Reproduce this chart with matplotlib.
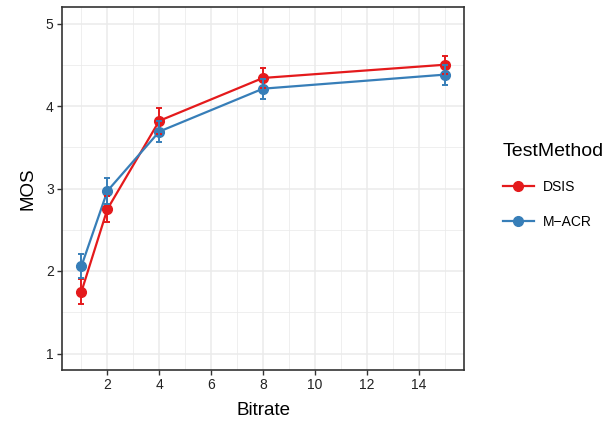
import matplotlib
matplotlib.use("Agg")
import matplotlib.pyplot as plt
from matplotlib.lines import Line2D

plt.rcParams['font.family'] = ['Liberation Sans', 'DejaVu Sans']

bitrate = [1, 2, 4, 8, 15]
dsis_mos = [1.75, 2.75, 3.82, 4.34, 4.50]
dsis_err = [0.15, 0.16, 0.16, 0.12, 0.11]
macr_mos = [2.06, 2.97, 3.69, 4.21, 4.38]
macr_err = [0.15, 0.16, 0.13, 0.12, 0.12]

red = '#E41A1C'
blue = '#377EB8'
dark = '#333333'

fig = plt.figure(figsize=(6.11, 4.25), dpi=100)
ax = fig.add_axes([62 / 611, 1 - 370 / 425, (464 - 62) / 611, (370 - 7) / 425])

series = [(dsis_mos, dsis_err, red), (macr_mos, macr_err, blue)]
# ggplot-like layering: lines, then points, then error bars
for y, e, c in series:
    ax.plot(bitrate, y, color=c, lw=1.6, zorder=2)
for y, e, c in series:
    ax.plot(bitrate, y, 'o', color=c, ms=7, zorder=3)
for y, e, c in series:
    ax.errorbar(bitrate, y, yerr=e, fmt='none', ecolor=c, elinewidth=1.4,
                capsize=2.2, capthick=1.4, zorder=4)

ax.set_xlim(0.25, 15.75)
ax.set_ylim(0.8, 5.2)
ax.set_xticks([2, 4, 6, 8, 10, 12, 14])
ax.set_xticks([1, 3, 5, 7, 9, 11, 13, 15], minor=True)
ax.set_yticks([1, 2, 3, 4, 5])
ax.set_yticks([1.5, 2.5, 3.5, 4.5], minor=True)
ax.grid(True, which='major', color='#EBEBEB', lw=1.1, zorder=0)
ax.grid(True, which='minor', color='#EBEBEB', lw=0.55, zorder=0)
ax.set_axisbelow(True)
ax.tick_params(which='major', length=3.5, width=1, color=dark, labelsize=10,
               labelcolor='#222222', pad=2.5)
ax.tick_params(which='minor', length=0)
for s in ax.spines.values():
    s.set_color(dark)
    s.set_linewidth(1.2)

ax.set_xlabel('Bitrate', fontsize=13.5, labelpad=7)
ax.set_ylabel('MOS', fontsize=13.5, labelpad=7)

handles = [Line2D([], [], color=red, lw=1.6, marker='o', ms=7),
           Line2D([], [], color=blue, lw=1.6, marker='o', ms=7)]
fig.legend(handles, ['DSIS', 'M\u2212ACR'], title='TestMethod', loc='upper left',
           bbox_to_anchor=(490 / 611, 1 - 130 / 425), frameon=False, fontsize=10,
           title_fontsize=14, handlelength=2.3, labelspacing=1.5,
           alignment='left', handletextpad=0.6)

fig.savefig('out.png', dpi=100)
